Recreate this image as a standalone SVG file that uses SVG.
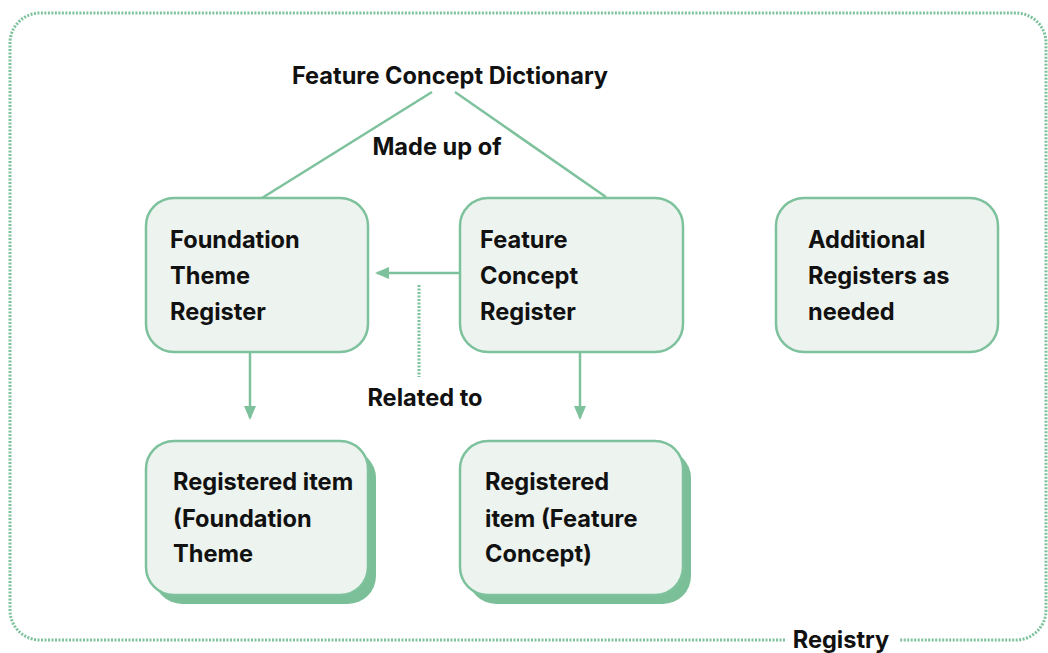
<svg xmlns="http://www.w3.org/2000/svg" width="1048" height="653" viewBox="0 0 1048 653">
<style>
.box{fill:#edf3ee;stroke:#7dc29c;stroke-width:2.5}
.shadow{fill:#7bbf98}
.t{font-family:Inter,"Noto Sans",sans-serif;font-weight:700;font-size:23.6px;fill:#111}
.ln{stroke:#7dc29c;stroke-width:2.5;fill:none}
.dot{stroke:#7dc29c;stroke-width:3;fill:none;stroke-dasharray:2 1.5}
</style>
<defs>
<marker id="ah" markerWidth="14" markerHeight="14" refX="12" refY="7" orient="auto" markerUnits="userSpaceOnUse">
<path d="M0,1 L14,7 L0,13 Z" fill="#7dc29c"/>
</marker>
</defs>
<rect width="1048" height="653" fill="#fff"/>
<g id="registry">
<path class="dot" d="M785,640 H40 A30,30 0 0 1 10,610 V43 A30,30 0 0 1 40,13 H1016 A30,30 0 0 1 1046,43 V610 A30,30 0 0 1 1016,640 H900"/>
<text class="t" x="841" y="648" text-anchor="middle">Registry</text>
</g>
<g id="dictionary">
<text class="t" x="450" y="84" text-anchor="middle">Feature Concept Dictionary</text>
</g>
<g id="connectors">
<line class="ln" x1="432" y1="92" x2="262" y2="198"/>
<line class="ln" x1="455" y1="92" x2="606" y2="197"/>
<text class="t" x="437" y="155" text-anchor="middle">Made up of</text>
<line class="ln" x1="460" y1="273" x2="377" y2="273" stroke-width="3.5" marker-end="url(#ah)"/>
<line class="dot" x1="419" y1="285" x2="419" y2="377"/>
<text class="t" x="425" y="406" text-anchor="middle">Related to</text>
<line class="ln" x1="250" y1="352" x2="250" y2="418" marker-end="url(#ah)"/>
<line class="ln" x1="580" y1="352" x2="580" y2="418" marker-end="url(#ah)"/>
</g>
<g id="foundation-theme-register">
<rect class="box" x="146" y="198" width="222" height="154" rx="28"/>
<text class="t" x="170" y="248">Foundation</text>
<text class="t" x="170" y="284">Theme</text>
<text class="t" x="170" y="320">Register</text>
</g>
<g id="feature-concept-register">
<rect class="box" x="460" y="198" width="223" height="154" rx="28"/>
<text class="t" x="480" y="248">Feature</text>
<text class="t" x="480" y="284">Concept</text>
<text class="t" x="480" y="320">Register</text>
</g>
<g id="additional-registers">
<rect class="box" x="776" y="198" width="222" height="154" rx="28"/>
<text class="t" x="808" y="248">Additional</text>
<text class="t" x="808" y="284">Registers as</text>
<text class="t" x="808" y="320">needed</text>
</g>
<g id="registered-item-foundation">
<rect class="shadow" x="154" y="450" width="222" height="154" rx="28"/>
<rect class="box" x="146" y="441" width="222" height="154" rx="28"/>
<text class="t" x="173" y="490">Registered item</text>
<text class="t" x="173" y="527">(Foundation</text>
<text class="t" x="173" y="562">Theme</text>
</g>
<g id="registered-item-feature">
<rect class="shadow" x="468" y="450" width="223" height="154" rx="28"/>
<rect class="box" x="460" y="441" width="223" height="154" rx="28"/>
<text class="t" x="485" y="490">Registered</text>
<text class="t" x="485" y="527">item (Feature</text>
<text class="t" x="485" y="562">Concept)</text>
</g>
</svg>
